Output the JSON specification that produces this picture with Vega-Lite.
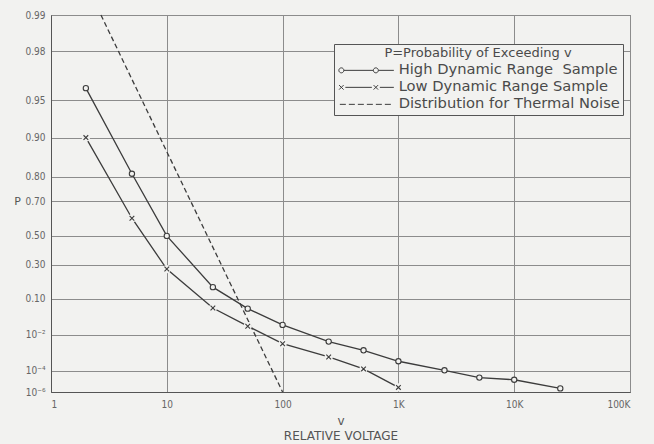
{
  "$schema": "https://vega.github.io/schema/vega-lite/v6.json",
  "width": 579,
  "height": 377,
  "autosize": {"type": "none"},
  "padding": {"left": 51, "top": 15, "right": 24, "bottom": 52},
  "background": "#f2f2f0",
  "config": {
    "font": "DejaVu Sans",
    "view": {"stroke": "#555555", "strokeWidth": 1},
    "axis": {
      "gridColor": "#8c8c8c",
      "gridOpacity": 1,
      "gridWidth": 1,
      "domainColor": "#555555",
      "ticks": false,
      "labelColor": "#666666",
      "titleColor": "#555555",
      "labelFont": "DejaVu Sans Condensed",
      "labelFontSize": 10,
      "titleFontWeight": "normal"
    }
  },
  "data": {
    "values": [
      {"series": "High", "v": 2, "P": 0.96},
      {"series": "High", "v": 5, "P": 0.81},
      {"series": "High", "v": 10, "P": 0.5},
      {"series": "High", "v": 25, "P": 0.157},
      {"series": "High", "v": 50, "P": 0.061},
      {"series": "High", "v": 100, "P": 0.022},
      {"series": "High", "v": 250, "P": 0.0052},
      {"series": "High", "v": 500, "P": 0.002},
      {"series": "High", "v": 1000, "P": 0.00047},
      {"series": "High", "v": 2500, "P": 0.00011},
      {"series": "High", "v": 5000, "P": 0.000028},
      {"series": "High", "v": 10000, "P": 0.000018},
      {"series": "High", "v": 25000, "P": 0.0000025},
      {"series": "Low", "v": 2, "P": 0.9},
      {"series": "Low", "v": 5, "P": 0.61},
      {"series": "Low", "v": 10, "P": 0.27},
      {"series": "Low", "v": 25, "P": 0.063},
      {"series": "Low", "v": 50, "P": 0.02},
      {"series": "Low", "v": 100, "P": 0.0042},
      {"series": "Low", "v": 250, "P": 0.00086},
      {"series": "Low", "v": 500, "P": 0.00014},
      {"series": "Low", "v": 1000, "P": 0.0000032},
      {"series": "Thermal", "v": 2.7, "P": 0.99},
      {"series": "Thermal", "v": 100, "P": 0.000001}
    ]
  },
  "transform": [{"calculate": "-log(datum.P)", "as": "q"}],
  "encoding": {
    "x": {
      "field": "v",
      "type": "quantitative",
      "scale": {"type": "log", "domain": [1, 100000], "nice": false},
      "axis": {
        "values": [1, 10, 100, 1000, 10000, 100000],
        "labelExpr": "datum.value >= 100000 ? '100K' : datum.value >= 10000 ? '10K' : datum.value >= 1000 ? '1K' : format(datum.value, 'd')",
        "labelPadding": 7,
        "title": ["v", "RELATIVE VOLTAGE"],
        "titleFontSize": 12,
        "titleLineHeight": 15,
        "titlePadding": 6
      }
    },
    "y": {
      "field": "q",
      "type": "quantitative",
      "scale": {"type": "log", "domain": [0.01005034, 13.8155106], "nice": false, "reverse": true},
      "axis": {
        "values": [0.01005034, 0.02020271, 0.05129329, 0.1053605, 0.22314355, 0.35667494, 0.69314718, 1.2039728, 2.30258509, 4.60517019, 9.21034037, 13.8155106],
        "labelExpr": "datum.value < 0.015 ? '0.99' : datum.value < 0.03 ? '0.98' : datum.value < 0.07 ? '0.95' : datum.value < 0.15 ? '0.90' : datum.value < 0.3 ? '0.80' : datum.value < 0.5 ? '0.70' : datum.value < 1 ? '0.50' : datum.value < 2 ? '0.30' : datum.value < 3 ? '0.10' : datum.value < 6 ? '10⁻²' : datum.value < 11 ? '10⁻⁴' : '10⁻⁶'",
        "labelPadding": 6,
        "title": "P",
        "titleAngle": 0,
        "titleX": -34,
        "titleY": 186,
        "titleAlign": "center",
        "titleBaseline": "middle",
        "titleFontSize": 11
      }
    }
  },
  "layer": [
    {
      "transform": [{"filter": "datum.series !== 'Thermal'"}],
      "mark": {"type": "line", "color": "#3c3c3c", "strokeWidth": 1.3},
      "encoding": {
        "detail": {"field": "series"}
      }
    },
    {
      "transform": [{"filter": "datum.series === 'Thermal'"}],
      "mark": {"type": "line", "color": "#3c3c3c", "strokeWidth": 1.3, "strokeDash": [5, 3]},
      "encoding": {}
    },
    {
      "transform": [{"filter": "datum.series === 'Low'"}],
      "mark": {"type": "point", "shape": "circle", "filled": true, "color": "#f2f2f0", "size": 70, "opacity": 1}
    },
    {
      "transform": [{"filter": "datum.series === 'Low'"}],
      "mark": {"type": "point", "shape": "M-1,-1L1,1M-1,1L1,-1", "filled": false, "stroke": "#3c3c3c", "strokeWidth": 1.1, "size": 22, "opacity": 1}
    },
    {
      "transform": [{"filter": "datum.series === 'High'"}],
      "mark": {"type": "point", "shape": "circle", "filled": false, "fill": "#f2f2f0", "fillOpacity": 1, "stroke": "#3c3c3c", "strokeWidth": 1.1, "size": 28, "opacity": 1}
    },
    {
      "mark": {"type": "point", "opacity": 0},
      "encoding": {
        "shape": {
          "field": "series",
          "type": "nominal",
          "scale": {
            "domain": ["High", "Low", "Thermal"],
            "range": [
              "M-1.1,0A0.5,0.5 0 1,0 -0.1,0A0.5,0.5 0 1,0 -1.1,0M-0.1,0L5.8,0M5.8,0A0.5,0.5 0 1,0 6.8,0A0.5,0.5 0 1,0 5.8,0M6.8,0L9.9,0",
              "M-1.05,-0.45L-0.15,0.45M-1.05,0.45L-0.15,-0.45M0.2,0L5.5,0M5.85,-0.45L6.75,0.45M5.85,0.45L6.75,-0.45M7.1,0L9.9,0",
              "M-0.9,0L0.3,0M0.9,0L2.1,0M2.7,0L3.9,0M4.5,0L5.7,0M6.3,0L7.5,0M8.1,0L9.3,0"
            ]
          },
          "legend": {
            "orient": "none",
            "legendX": 283,
            "legendY": 29,
            "title": "P=Probability of Exceeding v",
            "titleAnchor": "middle",
            "titleFontSize": 13,
            "titleFontWeight": "normal",
            "titleColor": "#4a4a4a",
            "titlePadding": 3,
            "titleLimit": 400,
            "labelExpr": "datum.value === 'High' ? 'High Dynamic Range\u00a0 Sample' : datum.value === 'Low' ? 'Low Dynamic Range Sample' : 'Distribution for Thermal Noise'",
            "labelFontSize": 14.7,
            "labelLimit": 400,
            "labelColor": "#4a4a4a",
            "labelOffset": 47,
            "symbolSize": 100,
            "symbolOpacity": 1,
            "symbolStrokeColor": "#3c3c3c",
            "symbolFillColor": "transparent",
            "symbolStrokeWidth": 1,
            "rowPadding": 1,
            "padding": 3,
            "fillColor": "#f2f2f0",
            "strokeColor": "#555555"
          }
        }
      }
    }
  ]
}
